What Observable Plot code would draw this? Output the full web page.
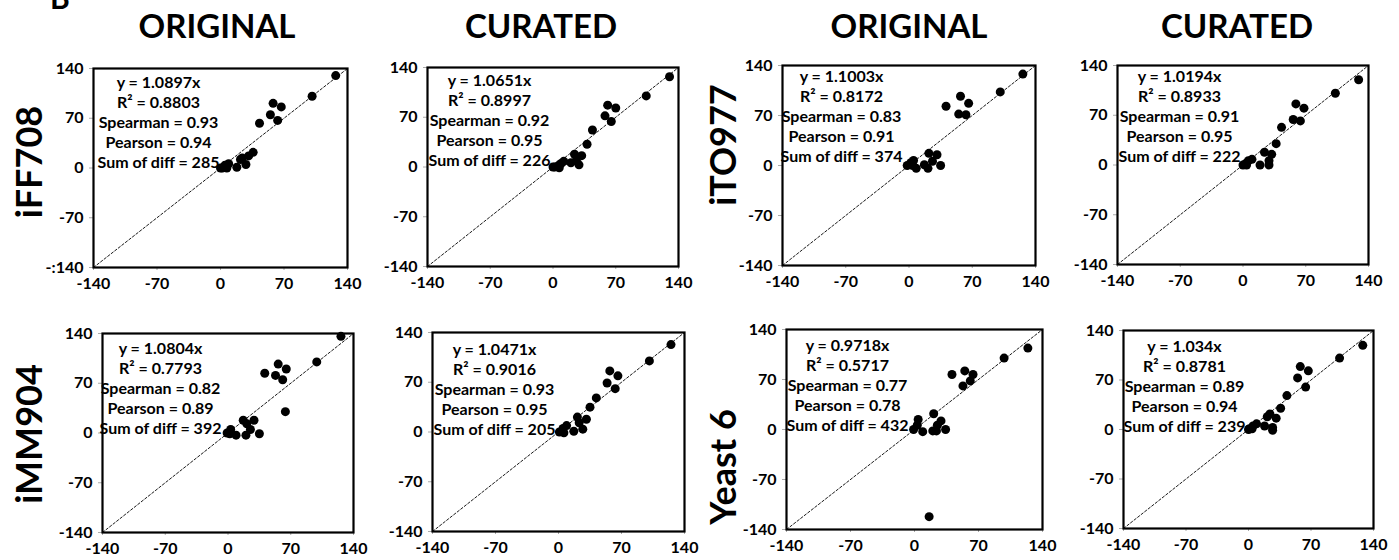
<!DOCTYPE html>
<html><head><meta charset="utf-8">
<script src="https://cdn.jsdelivr.net/npm/d3@7"></script>
<script src="https://cdn.jsdelivr.net/npm/@observablehq/plot@0.6"></script>
<style>
body{margin:0;background:#fff;}
#root{position:relative;width:1399px;height:560px;overflow:hidden;font-family:Lato,"Open Sans",sans-serif;font-weight:700;color:#000;}
.hdr{position:absolute;font-size:33px;font-weight:700;transform:translate(-50%,-50%);white-space:nowrap;line-height:1;}
.row{position:absolute;font-size:36px;font-weight:700;transform:translate(-50%,-50%) rotate(-90deg);white-space:nowrap;line-height:1;}
.panel{position:absolute;}
</style></head><body><div id="root"></div>
<script>
// ---- data ----
const columnHeaders = ["ORIGINAL", "CURATED", "ORIGINAL", "CURATED"];
const modelNames = ["iFF708", "iTO977", "iMM904", "Yeast 6"];
const tickValues = [-140, -70, 0, 70, 140];
const tickLabels = ["-140", "-70", "0", "70", "140"];
const tickLabelsFirstY = ["-:140", "-70", "0", "70", "140"];

const iFF708_original = [[127,130],[101,101],[58,91],[67,86],[55,75],[63,67],[43,63],[36,22],[31,17],[24,14],[22,12],[28,5],[18,1],[9,6],[5,4],[4,1],[0,0],[2,0],[7,0]];
const iFF708_curated = [[130,127],[104,100],[61,87],[70,83],[58,72],[65,64],[44,52],[38,32],[32,16],[24,18],[26,9],[20,6],[29,3],[12,8],[9,5],[6,2],[2,0],[7,-1],[0,0]];
const iTO977_original = [[126,128],[101,103],[57,97],[66,87],[41,83],[55,72],[63,71],[22,17],[31,15],[26,6],[17,1],[35,0],[21,-4],[8,-4],[5,7],[2,4],[-2,0],[4,0]];
const iTO977_curated = [[129,120],[103,101],[59,86],[68,80],[56,64],[64,62],[43,53],[37,30],[24,18],[32,15],[29,6],[29,0],[19,0],[10,8],[6,6],[4,0],[0,0],[3,2]];
const iMM904_original = [[126,136],[99,100],[56,97],[65,90],[41,84],[53,81],[61,75],[64,30],[17,18],[29,18],[21,13],[25,5],[20,-3],[35,-1],[9,-3],[3,5],[-1,0],[2,-1]];
const iMM904_curated = [[125,123],[101,100],[57,86],[66,79],[54,69],[63,61],[42,48],[35,35],[21,21],[31,18],[23,13],[27,4],[17,1],[9,9],[5,5],[1,0],[6,-1]];
const yeast6_original = [[124,114],[98,100],[55,82],[64,77],[41,77],[61,68],[53,61],[21,22],[29,12],[25,6],[34,0],[20,-2],[9,-3],[4,14],[3,6],[-1,0],[16,-122],[24,-2]];
const yeast6_curated = [[128,119],[102,101],[58,89],[67,83],[55,73],[64,60],[43,48],[36,30],[24,22],[21,18],[31,16],[18,5],[27,3],[27,-1],[9,8],[5,5],[1,1],[0,0],[4,1]];

const slopes = ["1.0897", "1.0651", "1.1003", "1.0194", "1.0804", "1.0471", "0.9718", "1.034"];
const rSquared = ["0.8803", "0.8997", "0.8172", "0.8933", "0.7793", "0.9016", "0.5717", "0.8781"];
const spearman = ["0.93", "0.92", "0.83", "0.91", "0.82", "0.93", "0.77", "0.89"];
const pearson = ["0.94", "0.95", "0.91", "0.95", "0.89", "0.95", "0.78", "0.94"];
const sumOfDiff = ["285", "226", "374", "222", "392", "205", "432", "239"];
const diagonal = [-140, 140];

// ---- layout ----
const panelSeries = [iFF708_original, iFF708_curated, iTO977_original, iTO977_curated,
                     iMM904_original, iMM904_curated, yeast6_original, yeast6_curated];
const frames = [
  [93,347,68,267],[427,678,67,266],[782,1035,65,265],[1117,1368,65,264],
  [102,353,333,532],[432,684,332,531],[786,1042,329,529],[1123,1373,330,528]
];
const textDx = [65,62,59,62,58,62,61,61];
const textDy = [5,4,2,2,6,8,7,7];

const root = document.getElementById("root");
function addDiv(cls, txt, x, y) {
  const d = document.createElement("div");
  d.className = cls; d.textContent = txt;
  d.style.left = x + "px"; d.style.top = y + "px";
  root.appendChild(d);
}
// panel letter, cut off at the top edge as in the reference
const b = document.createElement("div");
b.textContent = "B";
b.style.cssText = "position:absolute;left:50px;top:-18px;font-size:30px;font-weight:700;line-height:1;";
root.appendChild(b);

[217, 541, 909, 1237].forEach((x, i) => addDiv("hdr", columnHeaders[i], x, 25));
addDiv("row", modelNames[0], 28, 162);
addDiv("row", modelNames[1], 722, 145);
addDiv("row", modelNames[2], 28, 434);
addDiv("row", modelNames[3], 722, 467);

const mL = 50, mR = 14, mT = 12, mB = 30;
panelSeries.forEach((pts, i) => {
  const [x0, x1, y0, y1] = frames[i];
  const yLabels = i === 0 ? tickLabelsFirstY : tickLabels;
  const lines = [
    `y = ${slopes[i]}x`,
    `R\u00B2 = ${rSquared[i]}`,
    `Spearman = ${spearman[i]}`,
    `Pearson = ${pearson[i]}`,
    `Sum of diff = ${sumOfDiff[i]}`
  ].join("\n");
  const chart = Plot.plot({
    width: (x1 - x0) + mL + mR,
    height: (y1 - y0) + mT + mB,
    marginLeft: mL, marginRight: mR, marginTop: mT, marginBottom: mB,
    x: {domain: [-140, 140]},
    y: {domain: [-140, 140]},
    style: {fontFamily: "Lato, 'Open Sans', sans-serif", fontWeight: 700, fontSize: "16px", color: "#000", background: "transparent", overflow: "visible"},
    marks: [
      Plot.axisX({ticks: tickValues, tickFormat: d => tickLabels[tickValues.indexOf(d)], tickSize: 3, stroke: "#aaa", fill: "#000", tickPadding: 7, label: null, fontSize: 16, fontWeight: 700}),
      Plot.axisY({ticks: tickValues, tickFormat: d => yLabels[tickValues.indexOf(d)], tickSize: 4, stroke: "#aaa", fill: "#000", tickPadding: 6, label: null, fontSize: 16, fontWeight: 700}),
      Plot.line(diagonal, {x: d => d, y: d => d, stroke: "#000", strokeWidth: 0.9, strokeDasharray: "2.5,2"}),
      Plot.dot(pts, {x: d => d[0], y: d => d[1], r: 4.5, fill: "#000", stroke: "none"}),
      Plot.frame({stroke: "#000", strokeWidth: 2.2}),
      Plot.text([lines], {text: d => d, frameAnchor: "top-left", dx: textDx[i], dy: textDy[i],
        textAnchor: "middle", lineAnchor: "top", lineHeight: 1.25, fontSize: 16, fontWeight: 700, fill: "#000"})
    ]
  });
  chart.classList.add("panel");
  chart.style.left = (x0 - mL) + "px";
  chart.style.top = (y0 - mT) + "px";
  chart.style.position = "absolute";
  root.appendChild(chart);
});
</script>
</body></html>
